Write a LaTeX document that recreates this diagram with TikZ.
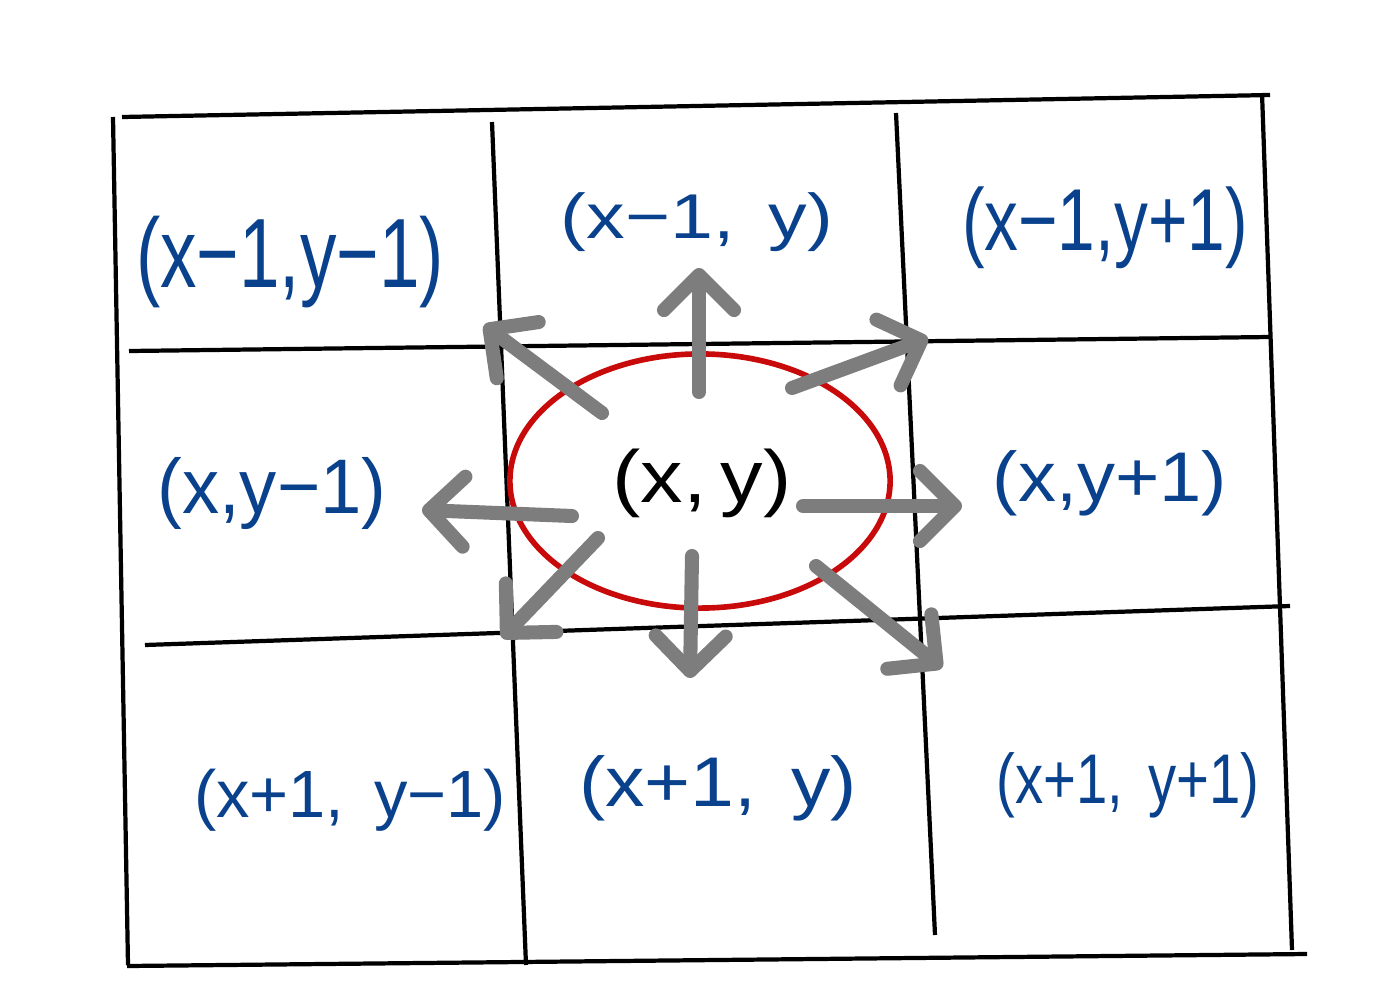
\documentclass[tikz,border=0pt]{standalone}
\usepackage{fontspec}
\setmainfont{Liberation Sans}
\usetikzlibrary{arrows.meta,shapes.geometric}
\definecolor{lblue}{RGB}{10,65,140}
\definecolor{agray}{RGB}{125,125,125}
\definecolor{ered}{RGB}{200,10,10}
\newcommand{\mylbl}[3]{\scalebox{#2}[1]{\fontsize{#1}{#1}\selectfont #3}}
\begin{document}
\begin{tikzpicture}[x=0.01cm,y=-0.01cm,
  gridline/.style={line width=1.2pt,black},
  lbl/.style={text=lblue,inner sep=0},
  arr/.style={line width=4pt,agray,line cap=round,-{Straight Barb[length=3.5mm,width=7mm,round,line width=4pt]}}]
\useasboundingbox (0,0) rectangle (1385,1000);
% grid lines
\draw[gridline] (122,117) -- (1270,95);
\draw[gridline] (113,117) -- (128,965);
\draw[gridline] (127,966) -- (1307,954);
\draw[gridline] (1262,93) -- (1292,950);
\draw[gridline] (129,351) -- (1270,337);
\draw[gridline] (145,645) -- (1290,606);
\draw[gridline] (492,122) -- (526,965);
\draw[gridline] (896,113) -- (935,935);
% ellipse
\node[draw=ered,line width=1.6pt,ellipse,minimum width=3.8cm,minimum height=2.54cm,inner sep=0] (ell) at (700,481) {};
% center label
\node[inner sep=0] (c) at (702,483) {\mylbl{21}{1.15}{(x,\,y)}};
% labels
\node[lbl] (nw) at (290,262) {\mylbl{28}{0.74}{(x−1,y−1)}};
\node[lbl] (n) at (697,222) {\mylbl{18}{1.22}{(x−1,\, y)}};
\node[lbl] (ne) at (1105,228) {\mylbl{25}{0.77}{(x−1,y+1)}};
\node[lbl] (w) at (272,493) {\mylbl{22}{0.96}{(x,y−1)}};
\node[lbl] (e2) at (1110,483) {\mylbl{20}{1.08}{(x,y+1)}};
\node[lbl] (sw) at (350,800) {\mylbl{19}{1.0}{(x+1,\, y−1)}};
\node[lbl] (s) at (718,788) {\mylbl{20}{1.12}{(x+1,\, y)}};
\node[lbl] (se) at (1128,785) {\mylbl{20}{0.8}{(x+1,\, y+1)}};
% arrow coordinates
\coordinate (a1s) at (699,392); \coordinate (a1e) at (699,268);
\coordinate (a2s) at (792,388); \coordinate (a2e) at (928,338);
\coordinate (a3s) at (803,506); \coordinate (a3e) at (962,506);
\coordinate (a4s) at (816,566); \coordinate (a4e) at (942,668);
\coordinate (a5s) at (692,556); \coordinate (a5e) at (690,678);
\coordinate (a6s) at (598,538); \coordinate (a6e) at (502,638);
\coordinate (a7s) at (572,516); \coordinate (a7e) at (422,510);
\coordinate (a8s) at (602,413); \coordinate (a8e) at (484,325);
\foreach \i in {1,...,8} \draw[arr] (a\i s) -- (a\i e);
\end{tikzpicture}
\end{document}
